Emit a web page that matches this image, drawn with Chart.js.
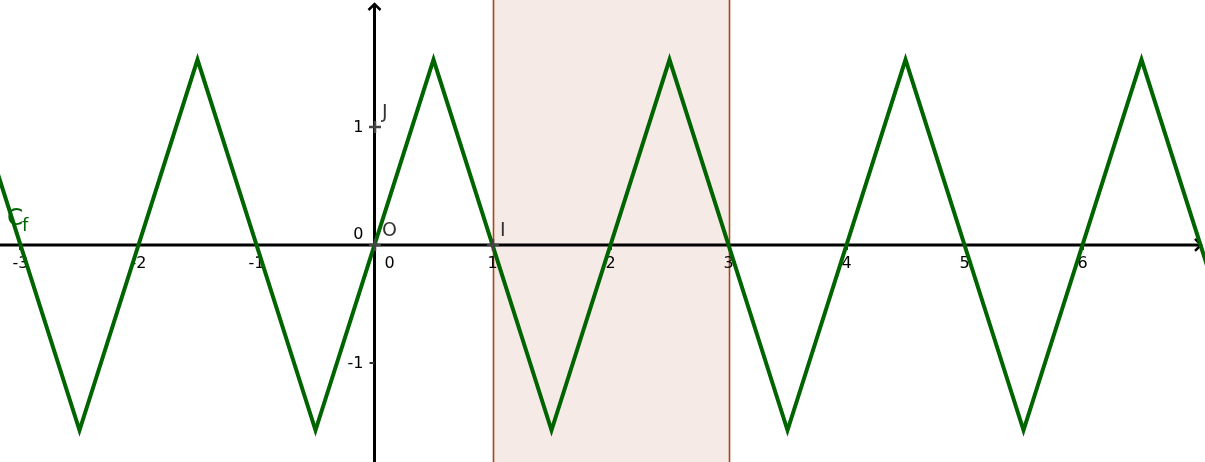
<!DOCTYPE html>
<html>
<head>
<meta charset="utf-8">
<script src="https://cdn.jsdelivr.net/npm/chart.js@4/dist/chart.umd.min.js"></script>
<style>
  html, body { margin: 0; padding: 0; background: #fff; }
  #wrap { width: 1205px; height: 462px; }
</style>
</head>
<body>
<div id="wrap"><canvas id="c"></canvas></div>
<script>
// vertices of the curve C_f
const curveX = [-3.5, -2.5, -1.5, -0.5, 0.5, 1.5, 2.5, 3.5, 4.5, 5.5, 6.5, 7.5];
const curveY = [1.57, -1.57, 1.57, -1.57, 1.57, -1.57, 1.57, -1.57, 1.57, -1.57, 1.57, -1.57];

// shaded band
const bandFrom = 1;
const bandTo = 3;

// tick labels
const xTicks = [-3, -2, -1, 0, 1, 2, 3, 4, 5, 6];
const yTicks = [-1, 0, 1];

// named points
const pointNames = ['O', 'I', 'J'];
const pointX = [0, 1, 0];
const pointY = [0, 0, 1];

const view = { xMin: -3.1737, xMax: 7.038, yMin: -1.839, yMax: 2.076 };

// ============================================================
// PLUGINS
// ============================================================
const bandPlugin = {
  id: 'band',
  beforeDatasetsDraw(chart) {
    const { ctx, chartArea: { top, bottom }, scales: { x } } = chart;
    const x0 = Math.round(x.getPixelForValue(bandFrom)) + 0.5;
    const x1 = Math.round(x.getPixelForValue(bandTo)) + 0.5;
    ctx.save();
    ctx.fillStyle = 'rgba(153,51,0,0.1)';
    ctx.fillRect(x0, top, x1 - x0, bottom - top);
    ctx.strokeStyle = '#a8461c';
    ctx.lineWidth = 1.6;
    ctx.beginPath();
    ctx.moveTo(x0, top); ctx.lineTo(x0, bottom);
    ctx.moveTo(x1, top); ctx.lineTo(x1, bottom);
    ctx.stroke();
    ctx.restore();
  }
};

const axesPlugin = {
  id: 'axes',
  beforeDatasetsDraw(chart) {
    const { ctx, chartArea: { left, right, top, bottom }, scales: { x, y } } = chart;
    const ox = x.getPixelForValue(0);
    const oy = y.getPixelForValue(0);
    ctx.save();
    ctx.strokeStyle = '#000';
    ctx.lineWidth = 3;
    ctx.lineCap = 'butt';
    ctx.beginPath();
    ctx.moveTo(left, oy); ctx.lineTo(right - 3, oy);
    ctx.moveTo(ox, bottom); ctx.lineTo(ox, top + 4);
    ctx.stroke();
    // arrows
    ctx.lineWidth = 2.5;
    ctx.lineJoin = 'miter';
    ctx.beginPath();
    ctx.moveTo(ox - 6, top + 10); ctx.lineTo(ox, top + 4); ctx.lineTo(ox + 6, top + 10);
    ctx.moveTo(right - 10, oy - 6); ctx.lineTo(right - 4, oy); ctx.lineTo(right - 10, oy + 6);
    ctx.stroke();
    // small ticks
    ctx.lineWidth = 2;
    ctx.strokeStyle = '#333';
    ctx.beginPath();
    xTicks.forEach(v => {
      if (v === 0) return;
      const px = Math.round(x.getPixelForValue(v));
      ctx.moveTo(px, oy); ctx.lineTo(px, oy + 5);
    });
    yTicks.forEach(v => {
      if (v === 0) return;
      const py = Math.round(y.getPixelForValue(v));
      ctx.moveTo(ox, py); ctx.lineTo(ox - 5, py);
    });
    ctx.stroke();
    // tick labels
    ctx.fillStyle = '#000';
    ctx.font = '16px "DejaVu Sans"';
    ctx.textBaseline = 'middle';
    ctx.textAlign = 'center';
    xTicks.forEach(v => {
      const px = x.getPixelForValue(v) + (v === 0 ? 15 : 0);
      ctx.fillText(String(v), px, oy + 19);
    });
    ctx.textAlign = 'right';
    yTicks.forEach(v => {
      const py = y.getPixelForValue(v) + (v === 0 ? -10 : 1);
      ctx.fillText(String(v), ox - 11, py);
    });
    ctx.restore();
  }
};

const pointsPlugin = {
  id: 'namedPoints',
  afterDatasetsDraw(chart) {
    const { ctx, scales: { x, y } } = chart;
    ctx.save();
    pointNames.forEach((name, i) => {
      const px = Math.round(x.getPixelForValue(pointX[i]));
      const py = Math.round(y.getPixelForValue(pointY[i]));
      ctx.strokeStyle = '#444';
      ctx.lineWidth = 2.5;
      ctx.beginPath();
      ctx.moveTo(px - 6, py); ctx.lineTo(px + 6, py);
      ctx.moveTo(px, py - 6); ctx.lineTo(px, py + 6);
      ctx.stroke();
      ctx.fillStyle = '#333';
      ctx.font = '19px "DejaVu Sans"';
      ctx.textAlign = 'left';
      ctx.textBaseline = 'alphabetic';
      ctx.fillText(name, px + 7, py - 9);
    });
    // curve name
    ctx.fillStyle = '#006400';
    ctx.font = '23px "DejaVu Sans"';
    ctx.fillText('C', 7, 225);
    ctx.font = '18px "DejaVu Sans"';
    ctx.fillText('f', 22, 231);
    ctx.restore();
  }
};

// ============================================================
// CHART
// ============================================================
new Chart(document.getElementById('c').getContext('2d'), {
  type: 'scatter',
  data: {
    datasets: [{
      data: curveX.map((v, i) => ({ x: v, y: curveY[i] })),
      showLine: true,
      borderColor: '#006400',
      borderWidth: 4,
      pointRadius: 0,
      tension: 0,
      clip: 0,
    }]
  },
  options: {
    responsive: true, maintainAspectRatio: false, animation: false,
    layout: { padding: 0 },
    plugins: { legend: { display: false }, tooltip: { enabled: false } },
    scales: {
      x: { type: 'linear', display: false, min: view.xMin, max: view.xMax },
      y: { type: 'linear', display: false, min: view.yMin, max: view.yMax },
    }
  },
  plugins: [bandPlugin, axesPlugin, pointsPlugin],
});
</script>
</body>
</html>
